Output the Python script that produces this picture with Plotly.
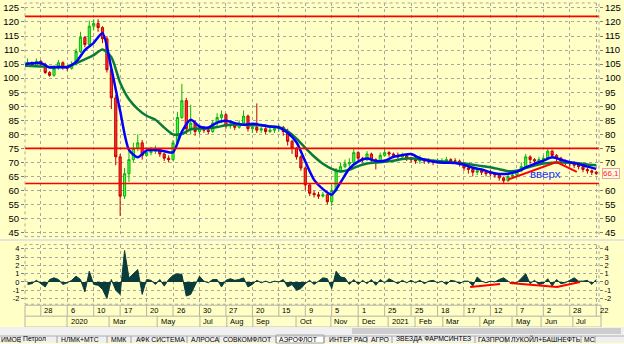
import plotly.graph_objects as go

W, H = 624, 344

# ---------------- data ----------------
close = [105.5,104.5,106,105,102,101,103.5,105.5,104,103.5,
         105,109.5,114.5,112,118.5,119.5,118,114,103,93,
         72,58,66,71,75,77,72.5,73.5,74,74.5,
         73,71.5,71,77,86,92,82,84,81,82,
         81.5,81,84,86,87,83,83.5,82.5,84,86.5,
         82,82.5,81.5,82,81,81.5,82,82.5,81,77.5,
         75,72,68,62,59,58.5,58,58.5,56,60,
         67,68.5,69.5,70,73.5,71.5,71,73,71,70.5,
         72.5,73.5,73,72.5,72,72.5,71.5,71,70.5,71,
         70.5,70.5,70,70.5,70.5,71,70.5,70.5,69.5,68,
         67.5,66.5,67,66.5,66,66,65.5,64.5,63.5,65,
         65.5,67,68.5,72,71,70.5,71,71.5,74,72.5,
         71.5,70.5,70,69.5,69,68.5,67.5,67,66.5,66.1]
high = [107,106,107,106.5,105.5,102.5,104.5,106.5,106,104.5,
        106,110.5,116.5,115,120.5,121,121,118.5,115,104,
        94,73,68,75,77,80,78,75,75.5,76,
        75,73.5,72.5,78,88,98,93,90.5,85,83,
        83,82.5,85,87.5,88.5,87.5,84.5,84,85,88.5,
        87,84,91,83,82.5,82.5,83,83.5,83,82,
        78,75.5,72.5,68.5,62.5,60,59.5,59.5,59,62,
        68,70,71,71.5,75,74,72,74,73.5,71.5,
        73.5,75,74,73.5,73.5,73.5,73,72,72,72.5,
        71.5,71.5,71,71.5,71.5,72,71.5,71.5,71,70,
        69,68.5,68,67.5,67,67.5,66.5,66,65,66,
        66.5,67.5,70,73,72.5,71.5,72,72.5,75,74.5,
        73,72,71,70.5,70.5,69.5,69,68,67.5,67]
low = [104.5,104,104,104,101.5,100.5,100.5,103,103,102.5,
       103,104.5,109,111,111.5,117,116.5,112.5,102,89,
       69,51,57,63,70,74,71,72,72.5,73,
       72,70.5,70,70.5,76.5,85.5,80,80,79.5,80,
       80.5,80,80.5,83,84,82,82,81.5,82,83,
       81,80.5,80.5,80.5,80,80.5,80.5,81,79.5,76,
       73,71,67,60,58,57.5,57,57.5,55,54.5,
       59.5,66.5,68,68.5,69.5,70.5,70,70.5,70,67.5,
       70,72,72,71.5,71,71.5,70.5,70,69.5,69.5,
       69.5,69.5,69,69.5,69.5,69.5,69.5,69.5,68.5,67,
       66,65,65.5,65.5,65,65,64.5,63.5,62.5,63,
       64.5,65,66.5,68,69.5,69.5,69.5,70,71,71.5,
       70.5,69.5,69,68.5,68,67.5,66.5,66,65.5,65.5]
first_open = 105.0

ma_fast = [105.0,105.3,105.4,103.8,104.0,103.9,105.8,110.0,112.6,116.0,
           103.5,88.3,74.5,71.8,74.3,74.4,74.0,73.6,81.0,85.2,
           82.8,82.4,84.2,84.8,84.0,83.4,83.8,83.3,82.8,82.5,
           80.6,77.2,70.3,63.8,60.5,58.5,62.9,67.8,70.3,71.4,
           70.5,70.6,72.0,72.6,73.0,71.5,70.6,70.1,69.9,69.8,
           69.2,68.1,67.5,66.5,65.9,66.0,66.7,68.2,69.5,70.6,
           71.8,71.0,70.1,69.4,68.5,67.7]
ma_slow = [104.4,104.3,104.2,104.0,104.0,104.0,105.3,106.7,108.2,110.2,
           107.5,98.4,92.5,89.0,86.6,85.2,82.4,80.0,80.1,81.8,
           82.1,82.1,82.6,83.2,83.5,83.4,83.2,83.2,82.8,82.5,
           81.1,78.5,75.2,72.1,69.5,67.7,66.8,67.4,68.7,69.6,
           70.0,70.2,70.6,71.2,71.5,71.2,70.8,70.5,70.2,69.9,
           69.6,69.2,68.7,68.3,67.6,66.9,67.0,68.0,68.9,69.6,
           69.9,70.0,69.9,69.7,69.3,69.0]

osc = [-0.3,-0.2,0.2,-0.2,-0.6,0.3,0.5,0.3,-0.3,-0.1,
       0.2,0.7,0.3,-1.2,1.3,-0.3,-0.4,-0.9,-2.0,0.3,
       -1.0,-1.5,3.8,0.5,1.0,1.5,-1.5,0.3,0.2,-0.3,
       0.3,-0.5,0.3,0.8,1.0,0.9,-1.7,-1.5,-0.4,0.7,
       0.1,-0.1,0.3,0.3,-0.6,0.2,0.4,0.2,0.3,0.5,
       -0.6,-0.3,0.2,-0.1,0.1,-0.1,0.1,0.0,0.3,-0.6,
       -0.3,-1.0,-0.8,-0.2,0.2,-0.3,0.1,0.5,0.4,-0.8,
       1.3,0.6,0.5,-0.3,0.3,-0.3,0.2,-0.2,0.3,-0.4,
       0.3,-0.1,0.4,0.1,-0.2,0.2,-0.1,0.2,-0.1,0.2,
       -0.2,0.1,0.2,-0.1,0.1,-0.3,0.2,0.1,-0.2,0.1,
       0.1,-0.5,0.6,0.1,-0.1,0.1,0.0,0.3,0.5,0.1,
       -0.2,-0.1,0.4,1.0,-0.2,0.2,-0.3,-0.2,0.4,-0.5,
       0.3,-0.2,-0.1,0.2,0.5,0.1,0.1,0.2,-0.3,0.3]

levels = [122, 75, 62.5]
trend_idx = [110.0, 121.0, 125.6]
trend_val = [63.9, 70.1, 66.6]
osc_trend_a_idx = [101.4, 108.2]
osc_trend_a_val = [-0.6, -0.24]
osc_trend_b_idx = [110.4, 121.1, 126.3]
osc_trend_b_val = [-0.12, -0.6, 0.0]
last_price = 66.1
label_text = "вверх"
label_idx, label_val = 118.6, 65.8

main_ticks = [45, 50, 55, 60, 65, 70, 75, 80, 85, 90, 95, 100, 105, 110, 115, 120, 125]
low_ticks = [-2, -1, 0, 1, 2, 3, 4]

day_labels = ["28","6","10","17","20","26","30","27","20","15","9",
              "5","1","25","25","18","17","12","7","2","28","22"]
month_labels = ["2020","Mar","May","Jul","Aug","Sep","Oct","Nov","Dec",
                "2021","Feb","Mar","Apr","May","Jun","Jul"]
month_idx = [9.95,19.5,30.4,40.1,46.2,52.1,61.9,69.8,76.0,
             82.8,88.9,95.2,103.6,110.9,117.5,124.7]

tabs = ["ИМОЕ","Петрол","НЛМК+МТС","ММК","АФК СИСТЕМА","АЛРОСА","СОВКОМФЛОТ",
        "АЭРОФЛОТ","ИНТЕР РАО","АГРО","ЗВЕЗДА ФАРМСИНТЕЗ","ГАЗПРОМ",
        "ЛУКОЙЛ+БАШНЕФТЬ","МС"]
active_tab = "АЭРОФЛОТ"

# ---------------- layout geometry (pixels) ----------------
tab_x = [0,22,60,110,135,190,222,278,328,370,395,477,510,583]
tab_sep = [20,57,107,131,187,219,276,324,367,392,475,506,581,595]
X0, X1 = 25, 599
MAIN_T, MAIN_B = 2, 237
LOW_T, LOW_B = 245, 305
XR = [0.416, 130.63]
YR_MAIN = [43.58, 126.77]
YR_LOW = [-2.687, 4.516]

YEL = "#FFFFC6"
GRID = "#A8A8A0"
FONT = "Liberation Sans, Arial, sans-serif"

def fx(p):
    return p / W

def fy(p):
    return 1 - p / H

idx = list(range(1, len(close) + 1))
ma_idx = list(range(0, 2 * len(ma_fast), 2))
opens = [first_open] + close[:-1]
grid_idx = [4 + 6 * k for k in range(len(day_labels))]

fig = go.Figure()
fig.add_trace(go.Candlestick(
    x=idx, open=opens, high=high, low=low, close=close,
    increasing=dict(line=dict(color="#10B010", width=1), fillcolor="#40FF40"),
    decreasing=dict(line=dict(color="#C00000", width=1), fillcolor="#FF3030"),
    whiskerwidth=0, xaxis="x", yaxis="y", showlegend=False, hoverinfo="skip"))
fig.add_trace(go.Scatter(x=ma_idx, y=ma_slow, mode="lines", xaxis="x", yaxis="y",
                         line=dict(color="#0A7A3C", width=2.5, shape="spline", smoothing=0.7),
                         showlegend=False, hoverinfo="skip"))
fig.add_trace(go.Scatter(x=ma_idx, y=ma_fast, mode="lines", xaxis="x", yaxis="y",
                         line=dict(color="#0000FF", width=2.5, shape="spline", smoothing=0.7),
                         showlegend=False, hoverinfo="skip"))
fig.add_trace(go.Scatter(x=trend_idx, y=trend_val, mode="lines", xaxis="x", yaxis="y",
                         line=dict(color="#FF0000", width=2), showlegend=False, hoverinfo="skip"))
fig.add_trace(go.Scatter(x=[idx[-1]], y=[last_price], mode="markers", xaxis="x", yaxis="y3",
                         marker=dict(opacity=0), showlegend=False, hoverinfo="skip"))

fig.add_trace(go.Scatter(x=idx, y=osc, mode="lines", fill="tozeroy", xaxis="x2", yaxis="y2",
                         line=dict(color="#0B3C3C", width=1), fillcolor="#0B3C3C",
                         showlegend=False, hoverinfo="skip"))
fig.add_trace(go.Scatter(x=osc_trend_a_idx, y=osc_trend_a_val, mode="lines", xaxis="x2", yaxis="y2",
                         line=dict(color="#FF0000", width=2), showlegend=False, hoverinfo="skip"))
fig.add_trace(go.Scatter(x=osc_trend_b_idx, y=osc_trend_b_val, mode="lines", xaxis="x2", yaxis="y2",
                         line=dict(color="#FF0000", width=2), showlegend=False, hoverinfo="skip"))
fig.add_trace(go.Scatter(x=[idx[-1]], y=[0], mode="markers", xaxis="x2", yaxis="y4",
                         marker=dict(opacity=0), showlegend=False, hoverinfo="skip"))

xcommon = dict(range=XR, domain=[fx(X0), fx(X1)], tickvals=grid_idx, showticklabels=False,
               showgrid=True, gridcolor=GRID, griddash="dot", gridwidth=1,
               zeroline=False, showline=False, ticks="", fixedrange=True)
ytick = dict(ticks="outside", ticklen=3, tickcolor="#808080",
             tickfont=dict(family=FONT, size=9.5, color="#000000"),
             zeroline=False, showline=False, fixedrange=True)
ytick_low = dict(ytick, tickfont=dict(family=FONT, size=7.5, color="#000000"))

right_ticks = [v for v in main_ticks if abs(v - last_price) > 2.5]
low_text = [str(v) for v in low_ticks]

fig.update_layout(
    width=W, height=H, margin=dict(l=0, r=0, t=0, b=0),
    paper_bgcolor=YEL, plot_bgcolor=YEL, showlegend=False,
    font=dict(family=FONT, size=10, color="#000000"),
    xaxis=dict(**xcommon, anchor="y", rangeslider=dict(visible=False)),
    xaxis2=dict(**xcommon, anchor="y2"),
    yaxis=dict(**ytick, range=YR_MAIN, domain=[fy(MAIN_B), fy(MAIN_T)], tickvals=main_ticks,
               side="left", anchor="x", showgrid=True, gridcolor=GRID, griddash="dot"),
    yaxis3=dict(**ytick, range=YR_MAIN, tickvals=right_ticks, side="right", anchor="x",
                overlaying="y", showgrid=False),
    yaxis2=dict(**ytick_low, range=YR_LOW, domain=[fy(LOW_B), fy(LOW_T)], tickvals=low_ticks,
                ticktext=low_text, side="left", anchor="x2", showgrid=True, gridcolor=GRID,
                griddash="dot"),
    yaxis4=dict(**ytick_low, range=YR_LOW, tickvals=low_ticks, ticktext=low_text, side="right",
                anchor="x2", overlaying="y2", showgrid=False),
)

shapes = []
for v in levels:
    shapes.append(dict(type="line", xref="x domain", yref="y", x0=0, x1=1, y0=v, y1=v,
                       line=dict(color="#FF0000", width=1.6)))
for t, b in [(MAIN_T, MAIN_B), (LOW_T, LOW_B)]:
    shapes.append(dict(type="rect", xref="paper", yref="paper", x0=fx(X0), x1=fx(X1),
                       y0=fy(b), y1=fy(t), line=dict(color=GRID, width=1, dash="dot")))
shapes.append(dict(type="line", xref="paper", yref="paper", x0=0, x1=1, y0=fy(240.5), y1=fy(240.5),
                   line=dict(color="#E4E4DC", width=2)))
R1T, R1B, R2B = 306, 317, 328
shapes.append(dict(type="rect", xref="paper", yref="paper", x0=fx(X0), x1=fx(601),
                   y0=fy(R2B), y1=fy(R1T), line=dict(color="#B4B4A8", width=1)))
shapes.append(dict(type="line", xref="paper", yref="paper", x0=fx(X0), x1=fx(601),
                   y0=fy(R1B), y1=fy(R1B), line=dict(color="#B4B4A8", width=1)))
for g in grid_idx:
    shapes.append(dict(type="line", xref="x", yref="paper", x0=g, x1=g, y0=fy(R1B), y1=fy(R1T),
                       line=dict(color="#B4B4A8", width=1)))
for m in month_idx:
    shapes.append(dict(type="line", xref="x", yref="paper", x0=m, x1=m, y0=fy(R2B), y1=fy(R1B),
                       line=dict(color="#B4B4A8", width=1)))
shapes.append(dict(type="rect", xref="paper", yref="paper", x0=0, x1=1, y0=0, y1=fy(R2B),
                   fillcolor="#F0F0F0", line=dict(width=0), layer="above"))
shapes.append(dict(type="rect", xref="paper", yref="paper", x0=fx(352), x1=fx(621),
                   y0=fy(335), y1=fy(329), fillcolor="#CDCDCD", line=dict(width=0), layer="above"))
ai = tabs.index(active_tab)
shapes.append(dict(type="rect", xref="paper", yref="paper", x0=fx(tab_sep[ai - 1]), x1=fx(tab_sep[ai]),
                   y0=0, y1=fy(336), fillcolor="#FFFFFF", line=dict(color="#A0A0A0", width=1),
                   layer="above"))
shapes.append(dict(type="line", xref="paper", yref="paper", x0=0, x1=1, y0=fy(337), y1=fy(337),
                   line=dict(color="#B0B0B0", width=1), layer="above"))
for s in tab_sep:
    shapes.append(dict(type="line", xref="paper", yref="paper", x0=fx(s), x1=fx(s), y0=0, y1=fy(337),
                       line=dict(color="#A0A0A0", width=1), layer="above"))
fig.update_layout(shapes=shapes)

ann = []
for g, t in zip(grid_idx, day_labels):
    ann.append(dict(x=g, xref="x", y=fy(311.5), yref="paper", text=t, showarrow=False,
                    xanchor="left", yanchor="middle", xshift=1.5,
                    font=dict(family=FONT, size=7.5, color="#000000")))
for m, t in zip(month_idx, month_labels):
    ann.append(dict(x=m, xref="x", y=fy(322.5), yref="paper", text=t, showarrow=False,
                    xanchor="left", yanchor="middle", xshift=1.5,
                    font=dict(family=FONT, size=7.5, color="#000000")))
ann.append(dict(x=label_idx, xref="x", y=label_val, yref="y", text=label_text, showarrow=False,
                xanchor="center", yanchor="middle",
                font=dict(family=FONT, size=11.5, color="#1A33FF")))
ann.append(dict(x=1, xref="x domain", y=last_price, yref="y", text=str(last_price).replace(".", ","),
                showarrow=False, xanchor="left", yanchor="middle", xshift=3,
                bgcolor="#FFFFE8", bordercolor="#F0A0A0", borderwidth=1, borderpad=0,
                font=dict(family=FONT, size=8, color="#FF2020")))
for t, x in zip(tabs, tab_x):
    ann.append(dict(x=fx(x), xref="paper", y=0, yref="paper", text=t, showarrow=False,
                    xanchor="left", yanchor="bottom", yshift=-1, borderpad=0,
                    font=dict(family=FONT, size=6.8, color="#000000")))
fig.update_layout(annotations=ann)

fig.write_html("out.html")
